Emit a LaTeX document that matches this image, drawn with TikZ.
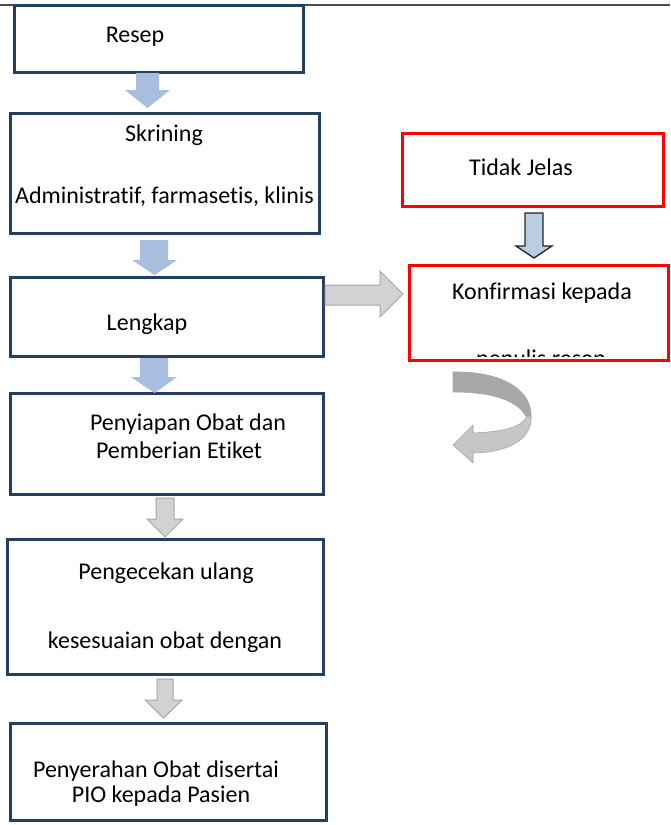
\documentclass[tikz,border=0pt]{standalone}
\usepackage{fontspec}
\setmainfont{Carlito}[Ligatures=NoCommon]
\definecolor{navy}{HTML}{243F60}
\definecolor{bluearrow}{HTML}{A9BEDF}
\definecolor{grayfill}{HTML}{D2D2D2}
\definecolor{grayline}{HTML}{A6A6A6}
\definecolor{backband}{HTML}{A8A8A8}
\definecolor{frontband}{HTML}{C6C6C6}
\definecolor{lightblue}{HTML}{B9CDE5}
\begin{document}
\begin{tikzpicture}[x=1pt,y=-1pt,
  box/.style={draw=navy,line width=3pt,fill=white,inner sep=0pt},
  redbox/.style={draw=red,line width=3pt,fill=white,inner sep=0pt},
  txt/.style={inner sep=0pt,font=\fontsize{24}{28}\selectfont},
  bluearr/.style={fill=bluearrow,draw=none},
  grayarr/.style={fill=grayfill,draw=grayline,line width=1pt},
]
\useasboundingbox (0,0) rectangle (670,825);
\fill[white] (0,0) rectangle (670,825);
% top rule
\draw[line width=1.5pt,color=black!70] (0,5) -- (670,5);

% boxes
\node[box,minimum width=289pt,minimum height=67pt] (resep) at (158.5,38.5) {};
\node[box,minimum width=309pt,minimum height=120pt] (skrining) at (164.5,173) {};
\node[box,minimum width=313pt,minimum height=79pt] (lengkap) at (166.5,316.5) {};
\node[box,minimum width=313pt,minimum height=101pt] (penyiapan) at (166.5,443.5) {};
\node[box,minimum width=316pt,minimum height=135pt] (pengecekan) at (165,606.5) {};
\node[box,minimum width=316pt,minimum height=97pt] (penyerahan) at (168,771.5) {};
\node[redbox,minimum width=261pt,minimum height=73pt] (tidak) at (532.5,169.5) {};
\node[redbox,minimum width=259pt,minimum height=95pt] (konfirmasi) at (538.5,312.5) {};

% texts
\node[txt] (t1) at (135,37) {Resep};
\node[txt] (t2) at (164,135) {Skrining};
\node[txt] (t3) at (164.5,197) {Administratif, farmasetis, klinis};
\node[txt] (t4) at (147,324) {Lengkap};
\node[txt] (t5) at (188,424) {Penyiapan Obat dan};
\node[txt] (t6) at (179,450) {Pemberian Etiket};
\node[txt] (t7) at (166,573) {Pengecekan ulang};
\node[txt] (t8) at (165,642) {kesesuaian obat dengan};
\node[txt] (t9) at (156,771) {Penyerahan Obat disertai};
\node[txt] (t10) at (161,796) {PIO kepada Pasien};
\node[txt] (t11) at (521,167) {Tidak Jelas};
\node[txt] (t12) at (542,293) {Konfirmasi kepada};
\begin{scope}
  \clip (411,267) rectangle (666,356);
  \node[txt,anchor=base] (t13) at (541,366) {penulis resep};
\end{scope}

% blue block arrows
\fill[bluearr] (136,73) -- (159,73) -- (159,90) -- (170,90) -- (147.5,108) -- (125,90) -- (136,90) -- cycle;
\fill[bluearr] (140,240) -- (168,240) -- (168,260) -- (177,260) -- (154.5,275) -- (132,260) -- (140,260) -- cycle;
\fill[bluearr] (140,358) -- (168,358) -- (168,377) -- (177,377) -- (154.5,393) -- (131,377) -- (140,377) -- cycle;

% gray block arrows
\draw[grayarr] (156,498) -- (174,498) -- (174,519) -- (183,519) -- (165,537) -- (147,519) -- (156,519) -- cycle;
\draw[grayarr] (157,679) -- (173,679) -- (173,700) -- (182,700) -- (163.5,718) -- (145,700) -- (157,700) -- cycle;
\draw[grayarr] (325,285) -- (380,285) -- (380,271) -- (403,294) -- (380,317) -- (380,305) -- (325,305) -- cycle;

% down arrow between red boxes
\draw[fill=lightblue,draw=black!85,line width=1.3pt] (525,213) -- (543,213) -- (543,246) -- (552,246) -- (534,258) -- (516,246) -- (525,246) -- cycle;

% curved U-turn arrow
\draw[fill=backband,draw=grayline,line width=0.6pt]
  (453,372) .. controls (505,371) and (533,392) .. (531,418)
  -- (527,418) .. controls (518,400) and (492,392) .. (453,392) -- cycle;
\draw[fill=frontband,draw=grayline,line width=0.6pt]
  (531,416) .. controls (533,442) and (502,453) .. (473,453)
  -- (473,463) -- (453,445) -- (473,425) -- (473,433)
  .. controls (500,432) and (522,428) .. (527,416) -- cycle;
\end{tikzpicture}
\end{document}
